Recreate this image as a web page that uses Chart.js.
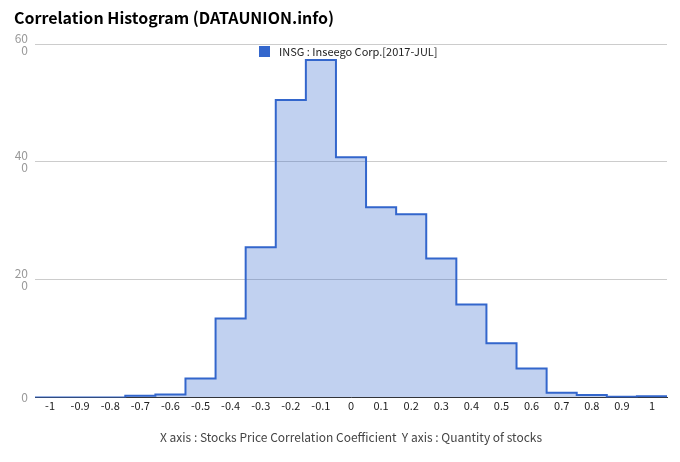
<!DOCTYPE html>
<html>
<head>
<meta charset="utf-8">
<script src="https://cdn.jsdelivr.net/npm/chart.js@4"></script>
<style>
  html, body { margin: 0; padding: 0; background: #fff; }
  #wrap { position: relative; width: 680px; height: 462px; }
  #legenda {
    position: absolute; left: 259px; top: 43px;
    font: 11px "Noto Sans CJK KR", sans-serif; color: #222;
    display: flex; align-items: center;
  }
  #legenda span.caixa {
    display: inline-block; width: 11px; height: 11px;
    background: #3366cc; margin-right: 9px;
  }
</style>
</head>
<body>
<div id="wrap">
  <canvas id="grafico" width="680" height="462"></canvas>
  <div id="legenda"><span class="caixa"></span>INSG : Inseego Corp.[2017-JUL]</div>
</div>
<script>
const fonte = '"Noto Sans CJK KR", sans-serif';

// centros das classes (coeficiente de correlacao)
const classes = [-1, -0.9, -0.8, -0.7, -0.6, -0.5, -0.4, -0.3, -0.2, -0.1, 0,
  0.1, 0.2, 0.3, 0.4, 0.5, 0.6, 0.7, 0.8, 0.9, 1];
// quantidade de acoes em cada classe
const quantidades = [0, 0, 0, 0.3, 0.5, 3.2, 13.4, 25.5, 50.5, 57.3, 40.8,
  32.3, 31.1, 23.6, 15.8, 9.2, 4.9, 0.8, 0.4, 0.1, 0.2];
const ticksY = [0, 20, 40, 60];
const meiaLargura = 0.05;

// pontos nas bordas esquerdas de cada classe + borda final
const pontos = classes.map((c, i) => ({ x: c - meiaLargura, y: quantidades[i] }));
pontos.push({ x: classes[classes.length - 1] + meiaLargura, y: quantidades[quantidades.length - 1] });

const grafico = new Chart(document.getElementById("grafico"), {
  type: "line",
  data: {
    datasets: [
      {
        label: "INSG : Inseego Corp.[2017-JUL]",
        data: pontos,
        stepped: true,
        borderColor: "#3366cc",
        borderWidth: 2,
        backgroundColor: "rgba(51,102,204,0.3)",
        fill: "origin",
        pointRadius: 0,
      },
    ],
  },
  options: {
    responsive: false,
    animation: false,
    layout: { padding: { left: 14, right: 13, top: 0, bottom: 13 } },
    plugins: {
      legend: { display: false },
      tooltip: { enabled: false },
      title: {
        display: true,
        text: "Correlation Histogram (DATAUNION.info)",
        align: "start",
        color: "#000",
        font: { family: fonte, size: 16, weight: "bold" },
        padding: { top: 8, bottom: 17 },
      },
    },
    scales: {
      x: {
        type: "linear",
        min: classes[0] - meiaLargura,
        max: classes[classes.length - 1] + meiaLargura,
        afterBuildTicks: (escala) => {
          escala.ticks = classes.map((v) => ({ value: v }));
        },
        ticks: {
          autoSkip: false,
          maxRotation: 0,
          color: "#222",
          font: { family: fonte, size: 11 },
          callback: (v) => String(Math.round(v * 10) / 10),
          padding: 2,
        },
        grid: { display: false, drawTicks: false },
        border: { color: "#333", width: 1 },
        title: {
          display: true,
          text: "X axis : Stocks Price Correlation Coefficient  Y axis : Quantity of stocks",
          color: "#444",
          font: { family: fonte, size: 12 },
          padding: { top: 16 },
        },
      },
      y: {
        min: 0,
        max: 60,
        afterBuildTicks: (escala) => {
          escala.ticks = ticksY.map((v) => ({ value: v }));
        },
        afterFit: (escala) => {
          escala.width = 21;
        },
        ticks: {
          color: "#999",
          font: { family: fonte, size: 12, lineHeight: 1 },
          callback: (v) => (v === 0 ? "0" : [String(v), "0"]),
          padding: 7,
        },
        grid: { color: "#ccc", drawTicks: false },
        border: { display: false },
      },
    },
  },
});
</script>
</body>
</html>
